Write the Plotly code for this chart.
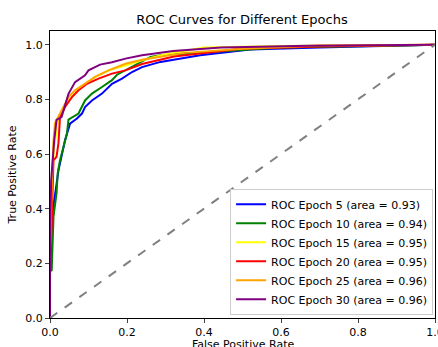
import plotly.graph_objects as go

# ROC curves (fpr, tpr)
fpr_e5 = [0, 0, 0.0045, 0.006, 0.022, 0.039, 0.052, 0.07, 0.083, 0.091, 0.109, 0.135, 0.161, 0.187, 0.213, 0.239, 0.287, 0.39, 0.52, 0.7, 1.0]
tpr_e5 = [0, 0.2, 0.27, 0.38, 0.54, 0.65, 0.711, 0.73, 0.748, 0.772, 0.796, 0.821, 0.857, 0.876, 0.9, 0.918, 0.937, 0.961, 0.982, 0.99, 1.0]

fpr_e10 = [0, 0, 0.0045, 0.009, 0.017, 0.02, 0.026, 0.035, 0.044, 0.048, 0.074, 0.091, 0.109, 0.135, 0.161, 0.174, 0.213, 0.261, 0.287, 0.4, 0.6, 0.95, 1.0]
tpr_e10 = [0, 0.17, 0.175, 0.37, 0.457, 0.53, 0.577, 0.626, 0.675, 0.726, 0.748, 0.796, 0.821, 0.845, 0.87, 0.89, 0.918, 0.955, 0.961, 0.972, 0.99, 0.998, 1.0]

fpr_e15 = [0, 0, 0.005, 0.01, 0.022, 0.035, 0.048, 0.065, 0.083, 0.117, 0.152, 0.196, 0.239, 0.3, 0.4, 0.6, 1.0]
tpr_e15 = [0, 0.3, 0.45, 0.62, 0.725, 0.76, 0.796, 0.821, 0.845, 0.882, 0.906, 0.924, 0.943, 0.965, 0.99, 0.995, 1.0]

fpr_e20 = [0, 0, 0.0045, 0.009, 0.017, 0.022, 0.026, 0.039, 0.057, 0.074, 0.096, 0.126, 0.161, 0.196, 0.239, 0.322, 0.496, 0.7, 1.0]
tpr_e20 = [0, 0.2, 0.347, 0.577, 0.59, 0.64, 0.735, 0.772, 0.808, 0.833, 0.857, 0.876, 0.894, 0.906, 0.929, 0.957, 0.985, 0.993, 1.0]

fpr_e25 = [0, 0, 0.0045, 0.009, 0.013, 0.03, 0.048, 0.065, 0.091, 0.117, 0.152, 0.196, 0.239, 0.35, 0.5, 0.7, 1.0]
tpr_e25 = [0, 0.25, 0.48, 0.65, 0.713, 0.76, 0.808, 0.833, 0.857, 0.882, 0.906, 0.93, 0.945, 0.97, 0.985, 0.997, 1.0]

fpr_e30 = [0, 0, 0.003, 0.006, 0.011, 0.017, 0.03, 0.048, 0.065, 0.091, 0.1, 0.13, 0.161, 0.196, 0.239, 0.32, 0.444, 0.67, 1.0]
tpr_e30 = [0, 0.3, 0.505, 0.57, 0.65, 0.725, 0.735, 0.82, 0.863, 0.888, 0.906, 0.927, 0.936, 0.949, 0.961, 0.977, 0.99, 0.996, 1.0]

series_names = ["ROC Epoch 5 (area = 0.93)", "ROC Epoch 10 (area = 0.94)", "ROC Epoch 15 (area = 0.95)",
                "ROC Epoch 20 (area = 0.95)", "ROC Epoch 25 (area = 0.96)", "ROC Epoch 30 (area = 0.96)"]
series_colors = ["blue", "green", "yellow", "red", "orange", "purple"]
series_fpr = [fpr_e5, fpr_e10, fpr_e15, fpr_e20, fpr_e25, fpr_e30]
series_tpr = [tpr_e5, tpr_e10, tpr_e15, tpr_e20, tpr_e25, tpr_e30]

diag = [0, 1]
ticks = [0.0, 0.2, 0.4, 0.6, 0.8, 1.0]
tick_labels = ["0.0", "0.2", "0.4", "0.6", "0.8", "1.0"]

fig = go.Figure()
for name, col, fx, ty in zip(series_names, series_colors, series_fpr, series_tpr):
    fig.add_trace(go.Scatter(x=fx, y=ty, mode="lines", name=name,
                             line=dict(color=col, width=2)))
fig.add_trace(go.Scatter(x=diag, y=diag, mode="lines", showlegend=False,
                         line=dict(color="gray", width=2, dash="dash")))

font = "DejaVu Sans, sans-serif"
fig.update_layout(
    width=438, height=347,
    margin=dict(l=50, r=3, t=31, b=29, autoexpand=False),
    paper_bgcolor="white", plot_bgcolor="white",
    font=dict(family=font, size=11, color="black"),
    title=dict(text="ROC Curves for Different Epochs", x=242 / 438, xanchor="center",
               y=1 - 19 / 347, yanchor="middle", font=dict(size=13, color="black")),
    legend=dict(x=0.995, y=0.011, xanchor="right", yanchor="bottom",
                bgcolor="rgba(255,255,255,0.8)", bordercolor="#cccccc", borderwidth=1,
                font=dict(size=11), tracegroupgap=0, itemwidth=30),
    showlegend=True,
    annotations=[dict(text="False Positive Rate", xref="paper", yref="paper", x=0.5, y=-0.092,
                      xanchor="center", yanchor="middle", showarrow=False, font=dict(size=11, color="black"))],
)
fig.update_xaxes(range=[0, 1], tickvals=ticks, ticktext=tick_labels, ticks="outside", ticklen=4,
                 ticklabelstandoff=0, ticklabeloverflow="allow", automargin=False,
                 showline=True, linecolor="black", linewidth=1, mirror=True, showgrid=False, zeroline=False)
fig.update_yaxes(range=[0, 1.05], tickvals=ticks, ticktext=tick_labels, ticks="outside", ticklen=4,
                 automargin=False,
                 showline=True, linecolor="black", linewidth=1, mirror=True, showgrid=False, zeroline=False,
                 title=dict(text="True Positive Rate", standoff=6, font=dict(size=11)))

fig.write_html("out.html")
